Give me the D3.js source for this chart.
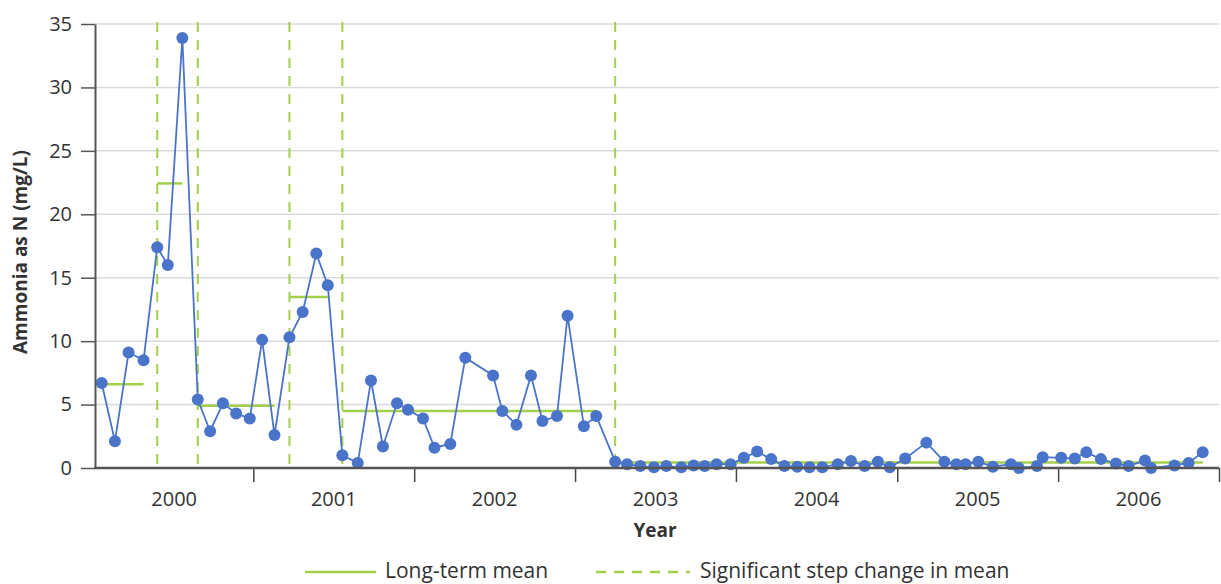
<!DOCTYPE html>
<html>
<head>
<meta charset="utf-8">
<script src="https://cdn.jsdelivr.net/npm/d3@7"></script>
<style>
  body { margin: 0; background: #fff; }
  text { font-family: "Open Sans", sans-serif; fill: #333; }
</style>
</head>
<body>
<svg id="chart" width="1221" height="584"></svg>
<script>
var svgWidth = 1221;
var svgHeight = 584;

// sample dates and ammonia values (mg/L)
var dates = [
  "2000-01-23", "2000-02-22", "2000-03-24", "2000-04-27", "2000-05-28", "2000-06-21",
  "2000-07-24", "2000-08-28", "2000-09-25", "2000-10-24", "2000-11-23", "2000-12-24",
  "2001-01-21", "2001-02-18", "2001-03-24", "2001-04-23", "2001-05-24", "2001-06-19",
  "2001-07-22", "2001-08-26", "2001-09-25", "2001-10-22", "2001-11-23", "2001-12-18",
  "2002-01-21", "2002-02-16", "2002-03-24", "2002-04-27", "2002-06-29", "2002-07-20",
  "2002-08-21", "2002-09-23", "2002-10-19", "2002-11-21", "2002-12-15", "2003-01-21",
  "2003-02-18", "2003-04-02", "2003-04-29", "2003-05-29", "2003-06-29", "2003-07-27",
  "2003-08-30", "2003-09-27", "2003-10-22", "2003-11-18", "2003-12-20", "2004-01-19",
  "2004-02-18", "2004-03-21", "2004-04-20", "2004-05-19", "2004-06-16", "2004-07-15",
  "2004-08-19", "2004-09-18", "2004-10-19", "2004-11-18", "2004-12-15", "2005-01-19",
  "2005-03-08", "2005-04-18", "2005-05-15", "2005-06-05", "2005-07-04", "2005-08-06",
  "2005-09-16", "2005-10-04", "2005-11-14", "2005-11-27", "2006-01-08", "2006-02-08",
  "2006-03-06", "2006-04-08", "2006-05-12", "2006-06-10", "2006-07-17", "2006-07-31",
  "2006-09-22", "2006-10-24", "2006-11-25"
];
var values = [
  6.7, 2.1, 9.1, 8.5, 17.4, 16.0,
  33.9, 5.4, 2.9, 5.1, 4.3, 3.9,
  10.1, 2.6, 10.3, 12.3, 16.9, 14.4,
  1.0, 0.4, 6.9, 1.7, 5.1, 4.6,
  3.9, 1.6, 1.9, 8.7, 7.3, 4.5,
  3.4, 7.3, 3.7, 4.1, 12.0, 3.3,
  4.1, 0.5, 0.3, 0.15, 0.05, 0.15,
  0.05, 0.2, 0.15, 0.3, 0.3, 0.8,
  1.3, 0.7, 0.15, 0.1, 0.05, 0.05,
  0.3, 0.55, 0.15, 0.5, 0.05, 0.75,
  2.0, 0.5, 0.3, 0.3, 0.5, 0.1,
  0.3, 0.0, 0.15, 0.85, 0.8, 0.75,
  1.25, 0.7, 0.35, 0.15, 0.6, 0.0,
  0.2, 0.4, 1.25
];

// dates where a significant step change in mean starts
var stepDates = ["2000-05-28", "2000-08-28", "2001-03-24", "2001-07-22", "2003-04-02"];

var yTicks = [0, 5, 10, 15, 20, 25, 30, 35];
var yearLabels = [2000, 2001, 2002, 2003, 2004, 2005, 2006];

var parse = d3.timeParse("%Y-%m-%d");
var points = dates.map((d, i) => ({ date: parse(d), value: values[i] }));
var steps = stepDates.map(parse);

var plotLeft = 95, plotRight = 1219, plotTop = 24, plotBottom = 468;

var x = d3.scaleTime()
  .domain([new Date(2000, 0, 1), new Date(2007, 0, 1)])
  .range([92, plotRight]);

var y = d3.scaleLinear()
  .domain([0, 35])
  .range([plotBottom, plotTop]);

var svg = d3.select("svg#chart");

var blue = "#4a74c9";
var green = "#a3cf4a";

// gridlines
svg.append("g")
  .selectAll("line.grid")
  .data(yTicks.slice(1))
  .enter().append("line")
  .attr("class", "grid")
  .attr("x1", plotLeft)
  .attr("x2", plotRight)
  .attr("y1", d => y(d))
  .attr("y2", d => y(d))
  .attr("stroke", "#dadada")
  .attr("stroke-width", 1.5);

// step change lines
svg.append("g")
  .selectAll("line.step")
  .data(steps)
  .enter().append("line")
  .attr("class", "step")
  .attr("x1", d => x(d))
  .attr("x2", d => x(d))
  .attr("y1", y(35) - 2)
  .attr("y2", plotBottom)
  .attr("stroke", green)
  .attr("stroke-width", 2)
  .attr("stroke-dasharray", "10,8");

// segment means between step changes
var bounds = [points[0].date].concat(steps);
var segments = bounds.map((b, i) => {
  var end = i + 1 < bounds.length ? bounds[i + 1] : null;
  var seg = points.filter(p => p.date >= b && (end === null || p.date < end));
  return {
    start: seg[0].date,
    end: seg[seg.length - 1].date,
    mean: d3.mean(seg, p => p.value)
  };
});

svg.append("g")
  .selectAll("line.mean")
  .data(segments)
  .enter().append("line")
  .attr("class", "mean")
  .attr("x1", d => x(d.start))
  .attr("x2", d => x(d.end))
  .attr("y1", d => y(d.mean))
  .attr("y2", d => y(d.mean))
  .attr("stroke", green)
  .attr("stroke-width", 2.5);

// data line
var line = d3.line()
  .x(d => x(d.date))
  .y(d => y(d.value));

svg.append("path")
  .datum(points)
  .attr("d", line)
  .attr("fill", "none")
  .attr("stroke", blue)
  .attr("stroke-width", 1.8);

svg.append("g")
  .selectAll("circle")
  .data(points)
  .enter().append("circle")
  .attr("cx", d => x(d.date))
  .attr("cy", d => y(d.value))
  .attr("r", 6)
  .attr("fill", blue);

// y axis
var yAxis = svg.append("g")
  .attr("transform", "translate(" + plotLeft + ",0)")
  .call(d3.axisLeft(y).tickValues(yTicks).tickSize(14).tickPadding(9).tickSizeOuter(0));
yAxis.select(".domain").attr("stroke", "#555").attr("stroke-width", 2);
yAxis.selectAll(".tick line").attr("stroke", "#555").attr("stroke-width", 1.5);
yAxis.selectAll(".tick text").style("font-size", "20px").attr("fill", "#333");

// x axis
var xAxis = svg.append("g")
  .attr("transform", "translate(0," + plotBottom + ")")
  .call(d3.axisBottom(x)
    .tickValues(d3.range(2001, 2008).map(yr => new Date(yr, 0, 1)))
    .tickSize(14)
    .tickSizeOuter(0)
    .tickFormat(""));
xAxis.select(".domain").remove();
xAxis.selectAll(".tick line").attr("stroke", "#444").attr("stroke-width", 1.5);
xAxis.append("line")
  .attr("x1", plotLeft - 1)
  .attr("x2", plotRight)
  .attr("stroke", "#555")
  .attr("stroke-width", 2.5);

svg.append("g")
  .selectAll("text.year")
  .data(yearLabels)
  .enter().append("text")
  .attr("class", "year")
  .attr("x", d => (Math.max(x(new Date(d, 0, 1)), plotLeft) + x(new Date(d + 1, 0, 1))) / 2)
  .attr("y", 506)
  .attr("text-anchor", "middle")
  .style("font-size", "20px")
  .text(d => d);

// axis titles
svg.append("text")
  .attr("x", 655)
  .attr("y", 537)
  .attr("text-anchor", "middle")
  .style("font-size", "19px")
  .style("font-weight", "bold")
  .text("Year");

svg.append("text")
  .attr("transform", "translate(27,252) rotate(-90)")
  .attr("text-anchor", "middle")
  .style("font-size", "19px")
  .style("font-weight", "bold")
  .text("Ammonia as N (mg/L)");

// legend
var legend = svg.append("g").attr("transform", "translate(0,572)");
legend.append("line")
  .attr("x1", 305).attr("x2", 376)
  .attr("stroke", green).attr("stroke-width", 2.5);
legend.append("text")
  .attr("x", 385).attr("y", 6)
  .style("font-size", "21px")
  .text("Long-term mean");
legend.append("line")
  .attr("x1", 596).attr("x2", 690)
  .attr("stroke", green).attr("stroke-width", 2.5)
  .attr("stroke-dasharray", "10,8");
legend.append("text")
  .attr("x", 700).attr("y", 6)
  .style("font-size", "21px")
  .text("Significant step change in mean");
</script>
</body>
</html>
